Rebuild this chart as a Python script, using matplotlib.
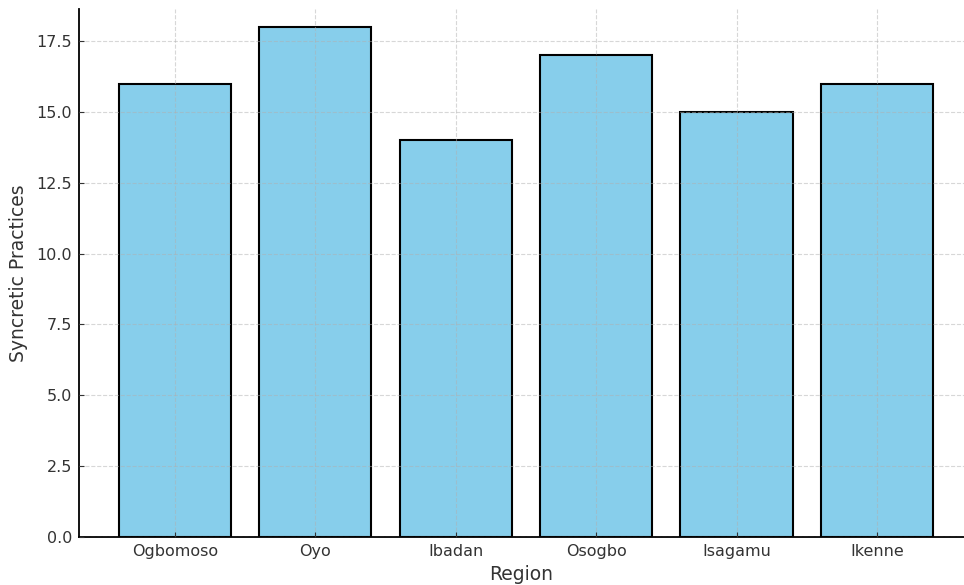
import matplotlib
matplotlib.use("Agg")
import matplotlib.pyplot as plt

regions = ["Ogbomoso", "Oyo", "Ibadan", "Osogbo", "Isagamu", "Ikenne"]
practices = [16, 18, 14, 17, 15, 16]

fig = plt.figure(figsize=(9.64, 5.85), dpi=100)
ax = fig.add_axes([79/964, 48/585, (964-79)/964, (537-9)/585])
x = list(range(len(regions)))
ax.bar(x, practices, width=0.8, color="skyblue", edgecolor="black", linewidth=1.5, zorder=2)
ax.set_xticks(x)
ax.set_xticklabels(regions)
ax.set_xlim(-0.683, 5.62)
ax.set_ylim(0, 18.63)
ax.set_yticks([0, 2.5, 5, 7.5, 10, 12.5, 15, 17.5])
ax.grid(True, linestyle="--", color="#b0b0b0", alpha=0.5, linewidth=0.8, zorder=3)
ax.set_axisbelow(False)
for s in ["top", "right"]:
    ax.spines[s].set_visible(False)
for s in ["left", "bottom"]:
    ax.spines[s].set_linewidth(1.3)
ax.tick_params(direction="in", labelsize=11.5, colors="#333333", labelcolor="#333333", pad=5)
ax.set_xlabel("Region", fontsize=13.5, color="#333333", labelpad=4)
ax.set_ylabel("Syncretic Practices", fontsize=13.5, color="#333333", labelpad=6)
fig.savefig("out.png", dpi=100)
